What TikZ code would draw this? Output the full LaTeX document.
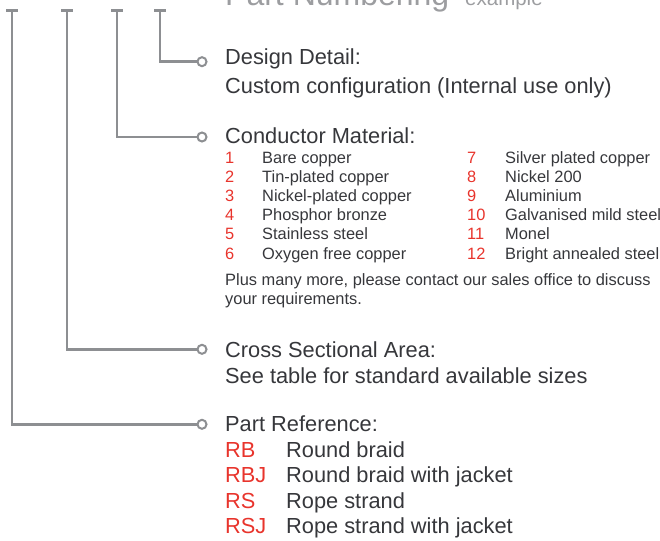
\documentclass[tikz,border=0pt]{standalone}
\usepackage{fontspec}
\setmainfont{Liberation Sans}
\usetikzlibrary{positioning}

\definecolor{leadgray}{HTML}{8D8F92}
\definecolor{txtgray}{HTML}{36373B}
\definecolor{codered}{HTML}{E8342C}
\definecolor{titlegray}{HTML}{9C9DA0}

\begin{document}
\begin{tikzpicture}[x=1pt, y=-1pt,
    lead/.style={leadgray, line width=2.6pt},
    pin/.style={circle, draw=leadgray, line width=2pt, fill=white, inner sep=0pt, minimum size=9pt},
    head/.style={anchor=base west, inner sep=0pt, text=txtgray, font=\fontsize{21.8}{25}\selectfont},
    item/.style={anchor=base west, inner sep=0pt, text=txtgray, font=\fontsize{16.4}{19}\selectfont},
    code/.style={item, text=codered},
    refcode/.style={head, text=codered}]
    \useasboundingbox (0,0) rectangle (660,540);
    \clip (0,0) rectangle (660,540);

    % title, cut by the top edge
    \node[anchor=base west, inner sep=0pt, text=titlegray, font=\fontsize{32}{36}\selectfont] (title) at (225,6) {Part Numbering};
    \node[anchor=base west, inner sep=0pt, text=titlegray, font=\fontsize{20.5}{24}\selectfont] (titlex) at (465,6) {example};

    % tick tops
    \foreach \ii/\xx in {1/12, 2/67, 3/117, 4/160}{
      \coordinate (t\ii) at (\xx,10.5);
      \draw[lead] ([xshift=-6pt]t\ii) -- ([xshift=6pt]t\ii);
    }

    % pins
    \node[pin] (c4) at (202,61.7) {};
    \node[pin] (c3) at (202,137) {};
    \node[pin] (c2) at (202,349.3) {};
    \node[pin] (c1) at (202,424.3) {};

    \foreach \ii in {1,2,3,4}{
      \draw[lead] (t\ii) |- (c\ii);
    }

    % design detail
    \node[head] (ddhead) at (225,64.5) {Design Detail:};
    \node[head] (ddtext) at (225,93.4) {Custom configuration (Internal use only)};

    % conductor material
    \node[head] (cmhead) at (225,143) {Conductor Material:};
    \foreach \nn/\mat [count=\k] in {1/Bare copper, 2/Tin-plated copper, 3/Nickel-plated copper,
        4/Phosphor bronze, 5/Stainless steel, 6/Oxygen free copper}{
      \node[code] (cmn\nn) at (225,163+19.2*\k-19.2) {\nn};
      \node[item] (cmm\nn) at (262,163+19.2*\k-19.2) {\mat};
    }
    \foreach \nn/\mat [count=\k] in {7/Silver plated copper, 8/Nickel 200, 9/Aluminium,
        10/Galvanised mild steel, 11/Monel, 12/Bright annealed steel}{
      \node[code] (cmn\nn) at (467,163+19.2*\k-19.2) {\nn};
      \node[item] (cmm\nn) at (505,163+19.2*\k-19.2) {\mat};
    }
    \node[item] (cmplus) at (225,285.7) {Plus many more, please contact our sales office to discuss};
    \node[item] (cmreq) at (225,304) {your requirements.};

    % cross sectional area
    \node[head] (cshead) at (225,357.5) {Cross Sectional Area:};
    \node[head] (cstext) at (225,383.2) {See table for standard available sizes};

    % part reference
    \node[head] (prhead) at (225,431.7) {Part Reference:};
    \foreach \cc/\desc [count=\k] in {RB/Round braid, RBJ/Round braid with jacket,
        RS/Rope strand, RSJ/Rope strand with jacket}{
      \node[refcode] (prc\cc) at (225,457.7+25.2*\k-25.2) {\cc};
      \node[head] (prd\cc) at (286,457.7+25.2*\k-25.2) {\desc};
    }
\end{tikzpicture}
\end{document}
